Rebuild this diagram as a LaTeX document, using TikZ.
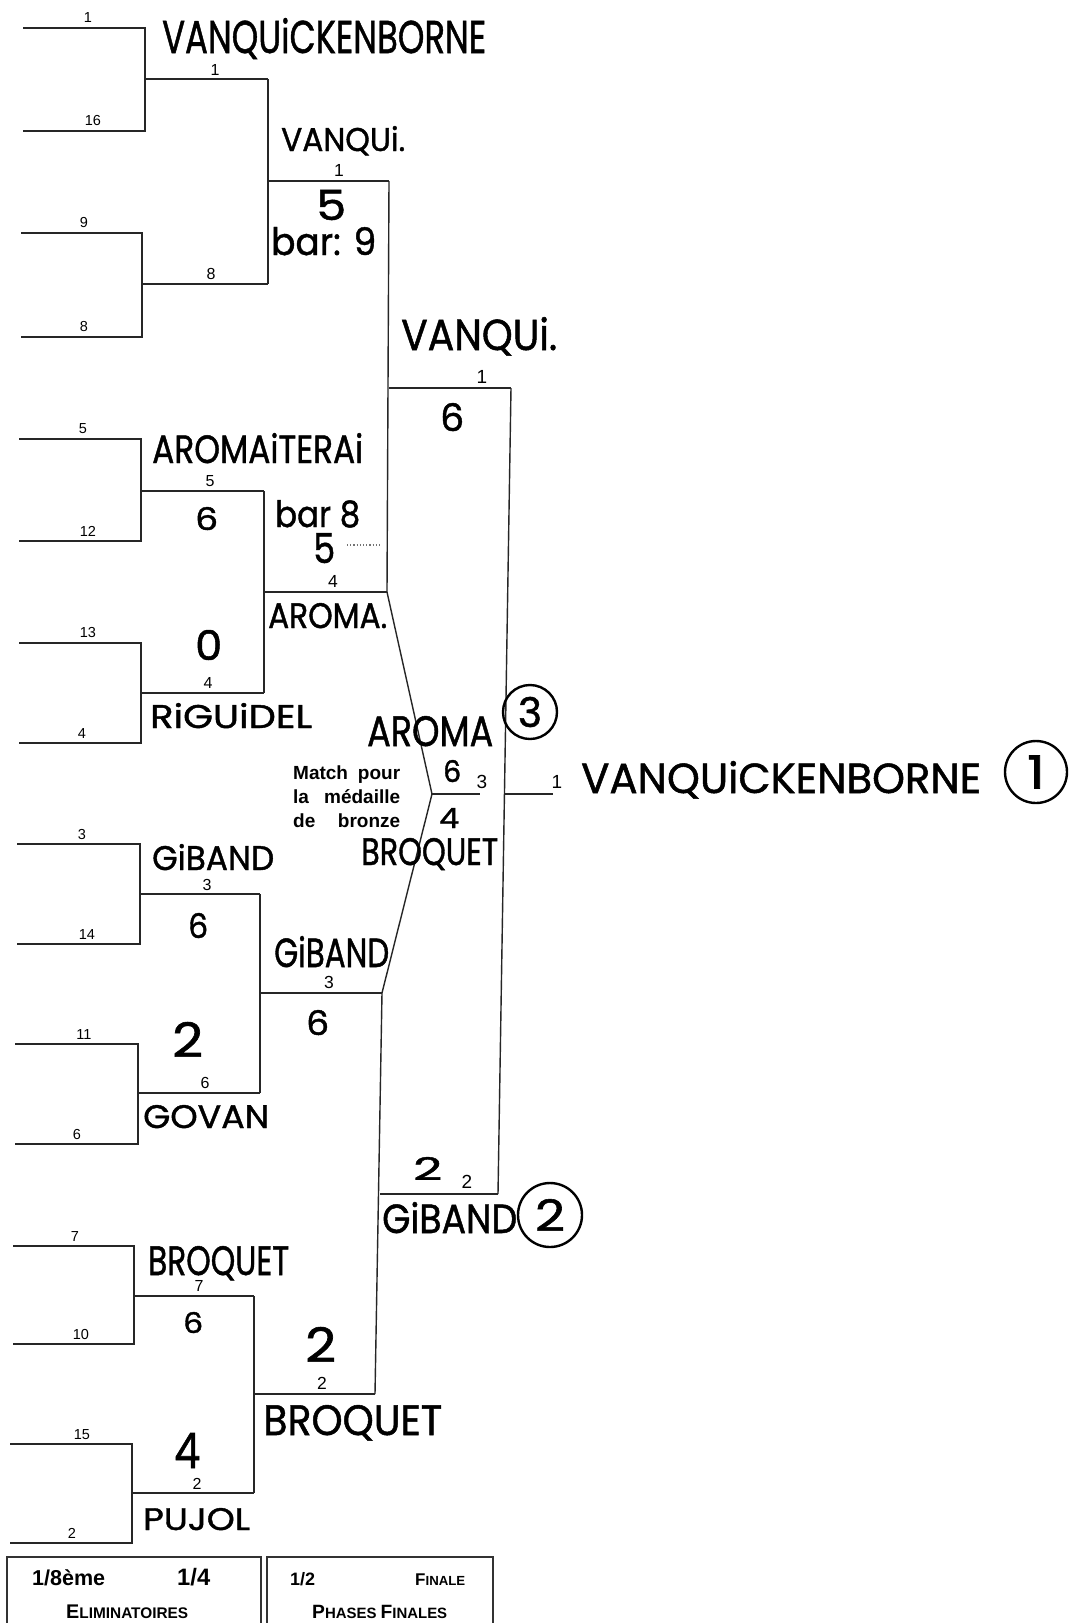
\documentclass[tikz,border=0pt]{standalone}
\usepackage{fontspec}
\usepackage{graphicx}
\setmainfont{Liberation Sans}
\newfontfamily\hwf{Poppins}[FakeBold=1.2]
\newfontfamily\prf{Liberation Sans}
\newcommand\hwtxt[3]{\resizebox{#1pt}{#2pt}{\hwf #3}}
\begin{document}
\begin{tikzpicture}[x=1pt,y=-1pt,
  br/.style={line width=1.4pt, black!85},
  boxst/.style={line width=1.4pt, black!80},
  hw/.style={anchor=base west, inner sep=0pt},
  ring/.style={circle, draw, line width=2.4pt, inner sep=0pt},
  labA/.style={anchor=base, inner sep=0pt, font=\prf\fontsize{14.5}{14.5}\selectfont},
  labB/.style={anchor=base, inner sep=0pt, font=\prf\fontsize{16}{16}\selectfont},
  labC/.style={anchor=base, inner sep=0pt, font=\prf\fontsize{17.5}{17.5}\selectfont},
  labD/.style={anchor=base, inner sep=0pt, font=\prf\fontsize{19}{19}\selectfont},
  prt/.style={anchor=base west, inner sep=0pt, font=\prf\bfseries\fontsize{19}{19}\selectfont}]
\useasboundingbox (0,0) rectangle (1081,1623);
\clip (0,0) rectangle (1081,1623);
\fill[white] (0,0) rectangle (1081,1623);

% ---- first round (1/8) brackets
\foreach \n/\xl/\xr/\yt/\yb in {1/23/145/28/131, 2/21/142/233/337, 3/19/141/439/541, 4/19/141/643/743, 5/17/140/844/944, 6/15/138/1044/1144, 7/13/134/1246/1344, 8/10/132/1444/1543}{
  \coordinate (a\n) at (\xl,\yt); \coordinate (b\n) at (\xr,\yt);
  \coordinate (c\n) at (\xr,\yb); \coordinate (d\n) at (\xl,\yb);
  \draw[br] (a\n) -- (b\n) -- (c\n) -- (d\n);
}
% ---- second round lines
\foreach \n/\xs/\xe/\y in {1/145/268/79, 2/142/268/284, 3/141/264/491, 4/141/264/693, 5/140/260/894, 6/138/260/1093, 7/134/254/1296, 8/132/254/1493}{
  \coordinate (e\n) at (\xs,\y); \coordinate (f\n) at (\xe,\y);
  \draw[br] (e\n) -- (f\n);
}
\draw[br] (f1) -- (f2);
\draw[br] (f3) -- (f4);
\draw[br] (f5) -- (f6);
\draw[br] (f7) -- (f8);
% ---- quarter final lines
\foreach \n/\xs/\xe/\y in {1/268/389/181, 2/264/387/592, 3/260/382/993, 4/254/375/1394}{
  \coordinate (g\n) at (\xs,\y); \coordinate (h\n) at (\xe,\y);
  \draw[br] (g\n) -- (h\n);
}
\draw[br] (h1) -- (h2);
\draw[br] (h3) -- (h4);
% ---- semi finals
\coordinate (s1a) at (389,388); \coordinate (s1b) at (511,388);
\coordinate (s2a) at (380,1194); \coordinate (s2b) at (498,1194);
\draw[br] (s1a) -- (s1b);
\draw[br] (s2a) -- (s2b);
\draw[br] (s1b) -- (s2b);
% ---- bronze match
\coordinate (bz) at (432,794); \coordinate (bze) at (480,794);
\draw[br] (h2) -- (bz) -- (h3);
\draw[br] (bz) -- (bze);
% ---- final
\coordinate (fa) at (505,794); \coordinate (fb) at (553,794);
\draw[br] (fa) -- (fb);

% ---- printed seeds, first round
\node[labA] (l1) at (88,22) {1};
\node[labA] (l2) at (93,125) {16};
\node[labA] (l3) at (84,227) {9};
\node[labA] (l4) at (84,331) {8};
\node[labA] (l5) at (83,433) {5};
\node[labA] (l6) at (88,536) {12};
\node[labA] (l7) at (88,637) {13};
\node[labA] (l8) at (82,738) {4};
\node[labA] (l9) at (82,839) {3};
\node[labA] (l10) at (87,939) {14};
\node[labA] (l11) at (84,1039) {11};
\node[labA] (l12) at (77,1139) {6};
\node[labA] (l13) at (75,1241) {7};
\node[labA] (l14) at (81,1339) {10};
\node[labA] (l15) at (82,1439) {15};
\node[labA] (l16) at (72,1538) {2};
% second round
\node[labB] (m1) at (215,75) {1};
\node[labB] (m2) at (211,279) {8};
\node[labB] (m3) at (210,486) {5};
\node[labB] (m4) at (208,688) {4};
\node[labB] (m5) at (207,890) {3};
\node[labB] (m6) at (205,1088) {6};
\node[labB] (m7) at (199,1291) {7};
\node[labB] (m8) at (197,1489) {2};
% quarter finals
\node[labC] (q1) at (339,176) {1};
\node[labC] (q2) at (333,587) {4};
\node[labC] (q3) at (329,988) {3};
\node[labC] (q4) at (322,1389) {2};
% semis, bronze, final
\node[labD] (sl1) at (482,383) {1};
\node[labD] (sl2) at (467,1188) {2};
\node[labD] (bl) at (482,788) {3};
\node[labD] (fl) at (557,788) {1};

% ---- Match pour la médaille de bronze
\node[prt] (mp1) at (293,779) {\makebox[107pt][s]{Match pour}};
\node[prt] (mp2) at (293,803) {\makebox[107pt][s]{la médaille}};
\node[prt] (mp3) at (293,827) {\makebox[107pt][s]{de bronze}};

% ---- handwritten names and scores
\node[hw] (n1) at (162,53) {\hwtxt{324}{35}{VANQUiCKENBORNE}};
\node[hw] (n2) at (281,151) {\hwtxt{124}{25}{VANQUi.}};
\node[hw] (n3) at (316,220) {\hwtxt{30}{30}{5}};
\node[hw] (n4) at (271,255) {\hwtxt{105}{28}{bar: 9}};
\node[hw] (n5) at (401,350) {\hwtxt{156}{33}{VANQUi.}};
\node[hw] (n6) at (440,431) {\hwtxt{24}{28}{6}};
\node[hw] (n7) at (152,463) {\hwtxt{211}{30}{AROMAiTERAi}};
\node[hw] (n8) at (195,530) {\hwtxt{23}{23}{6}};
\node[hw] (n9) at (275,527) {\hwtxt{85}{27}{bar 8}};
\node[hw] (n10) at (313,563) {\hwtxt{22}{30}{5}};
\coordinate (dt1) at (347,545); \coordinate (dt2) at (382,545);
\draw[dotted, line width=1.2pt, black!55] (dt1) -- (dt2);
\node[hw] (n11) at (268,628) {\hwtxt{119}{25}{AROMA.}};
\node[hw] (n12) at (195,660) {\hwtxt{27}{30}{0}};
\node[hw] (n13) at (150,728) {\hwtxt{162}{25}{RiGUiDEL}};
\node[hw] (n14) at (367,746) {\hwtxt{126}{30}{AROMA}};
\node[ring, minimum size=54pt] (c3) at (530,712) {\hwtxt{24}{30}{3}};
\node[hw] (n15) at (443,782) {\hwtxt{18}{22}{6}};
\node[hw] (n16) at (439,828) {\hwtxt{20}{20}{4}};
\node[hw] (n17) at (361,865) {\hwtxt{137}{27}{BROQUET}};
\node[hw] (n18) at (152,870) {\hwtxt{122}{26}{GiBAND}};
\node[hw] (n19) at (188,938) {\hwtxt{20}{25}{6}};
\node[hw] (n20) at (274,967) {\hwtxt{115}{31}{GiBAND}};
\node[hw] (n21) at (306,1035) {\hwtxt{23}{25}{6}};
\node[hw] (n22) at (172,1057) {\hwtxt{31}{35}{2}};
\node[hw] (n23) at (143,1128) {\hwtxt{126}{23}{GOVAN}};
\node[hw] (n24) at (413,1180) {\hwtxt{29}{23}{2}};
\node[hw] (n25) at (382,1233) {\hwtxt{135}{31}{GiBAND}};
\node[ring, minimum size=64pt] (c2) at (550,1215) {\hwtxt{30}{32}{2}};
\node[hw] (n26) at (148,1275) {\hwtxt{141}{29}{BROQUET}};
\node[hw] (n27) at (183,1333) {\hwtxt{20}{21}{6}};
\node[hw] (n28) at (305,1362) {\hwtxt{31}{35}{2}};
\node[hw] (n29) at (263,1435) {\hwtxt{179}{30}{BROQUET}};
\node[hw] (n30) at (174,1468) {\hwtxt{26}{35}{4}};
\node[hw] (n31) at (143,1530) {\hwtxt{107}{22}{PUJOL}};
\node[hw] (n32) at (581,793) {\hwtxt{400}{32}{VANQUiCKENBORNE}};
\node[ring, minimum size=62pt] (c1) at (1036,772) {\hwtxt{18}{33}{1}};

% ---- bottom boxes
\draw[boxst] (7,1640) -- (7,1557) -- (261,1557) -- (261,1640);
\draw[boxst] (267,1640) -- (267,1557) -- (493,1557) -- (493,1640);
\node[prt, anchor=base west] (k1) at (32,1585) {\resizebox{73pt}{!}{1/8ème}};
\node[prt, anchor=base west] (k2) at (177,1585) {\resizebox{33pt}{!}{1/4}};
\node[prt, anchor=base west] (k3) at (66,1618) {\resizebox{122pt}{!}{{\fontsize{18}{18}\selectfont E}{\fontsize{14}{14}\selectfont LIMINATOIRES}}};
\node[prt, anchor=base west] (k4) at (290,1585) {\resizebox{25pt}{!}{1/2}};
\node[prt, anchor=base west] (k5) at (415,1585) {\resizebox{50pt}{!}{{\fontsize{18}{18}\selectfont F}{\fontsize{14}{14}\selectfont INALE}}};
\node[prt, anchor=base west] (k6) at (312,1618) {\resizebox{135pt}{!}{{\fontsize{18}{18}\selectfont P}{\fontsize{14}{14}\selectfont HASES }{\fontsize{18}{18}\selectfont F}{\fontsize{14}{14}\selectfont INALES}}};
\end{tikzpicture}
\end{document}
